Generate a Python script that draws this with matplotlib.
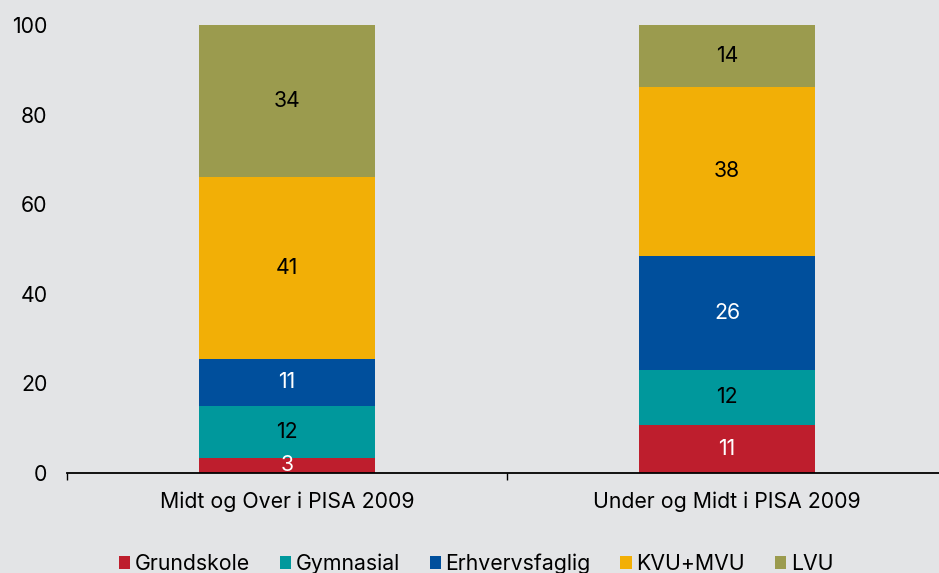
import matplotlib.pyplot as plt
from matplotlib.patches import Patch

# data
groups = ['Midt og Over i PISA 2009', 'Under og Midt i PISA 2009']
series = ['Grundskole', 'Gymnasial', 'Erhvervsfaglig', 'KVU+MVU', 'LVU']
grundskole     = [3.3, 10.7]
gymnasial      = [11.6, 12.2]
erhvervsfaglig = [10.6, 25.6]
kvu_mvu        = [40.6, 37.6]
lvu            = [33.9, 13.9]

values = [grundskole, gymnasial, erhvervsfaglig, kvu_mvu, lvu]
colors = ['#BE1E2D', '#00989C', '#004F9C', '#F2AF06', '#9B9B4E']
label_colors = ['white', 'black', 'white', 'black', 'black']
bg = '#E3E4E6'

plt.rcParams['font.family'] = ['Inter', 'DejaVu Sans']
fs = 15.3

fig = plt.figure(figsize=(9.39, 5.73), dpi=100, facecolor=bg)
ax = fig.add_axes([67/939, 100.3/573, 880/939, 447.7/573], facecolor=bg)

x = range(len(groups))
bottom = [0, 0]
for vals, col, lcol, name in zip(values, colors, label_colors, series):
    bars = ax.bar(x, vals, width=0.4, bottom=bottom, color=col, label=name)
    ax.bar_label(bars, labels=[f'{round(v):d}' for v in vals], label_type='center',
                 color=lcol, fontsize=fs)
    bottom = [b + v for b, v in zip(bottom, vals)]

ax.set_xlim(-0.5, 1.5)
ax.set_ylim(0, 100)
ax.set_yticks(range(0, 101, 20))
ax.set_xticks(list(x))
ax.set_xticklabels(groups)
ax.set_xticks([-0.5, 0.5, 1.5], minor=True)

for s in ['left', 'right', 'top']:
    ax.spines[s].set_visible(False)
ax.spines['bottom'].set_linewidth(1.3)
ax.tick_params(axis='y', length=0, pad=14, labelsize=fs)
ax.tick_params(axis='x', which='major', length=0, pad=13.5, labelsize=fs)
ax.tick_params(axis='x', which='minor', length=5, width=1, direction='out')

handles = [Patch(facecolor=c, label=n) for c, n in zip(colors, series)]
fig.legend(handles=handles, loc='center', bbox_to_anchor=(476/939, 9/573),
           ncol=5, frameon=False, fontsize=fs, handlelength=0.55, handleheight=0.55,
           handletextpad=0.2, columnspacing=1.4, borderpad=0)

fig.savefig('out.png', dpi=100, facecolor=bg)
